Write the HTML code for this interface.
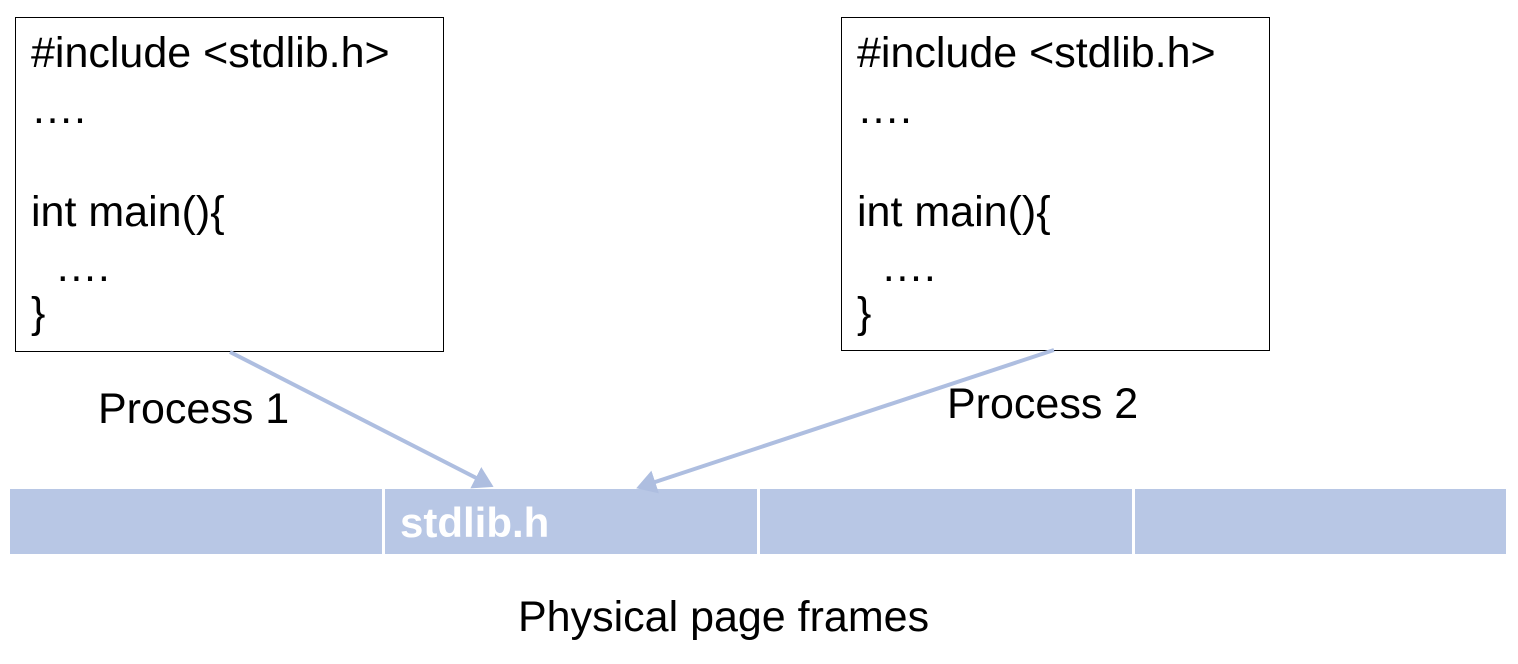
<!DOCTYPE html>
<html><head><style>
body{margin:0;width:1518px;height:664px;background:#fff;position:relative;overflow:hidden;font-family:"Liberation Sans",Arial,sans-serif;}
.box{position:absolute;border:1.5px solid #000;box-sizing:border-box;}
.t{position:absolute;font-size:43px;line-height:43px;white-space:pre;color:#000;}
.bar{position:absolute;top:489px;height:65px;background:#b8c7e5;}
</style></head><body>
<div class="box" style="left:15px;top:17px;width:429px;height:335px"></div>
<div class="box" style="left:841px;top:17px;width:429px;height:334px"></div>
<div class="t" style="left:31px;top:32px">#include &lt;stdlib.h&gt;</div>
<div class="t" style="left:31px;top:88px">….</div>
<div class="t" style="left:31px;top:191px">int main(){</div>
<div class="t" style="left:31px;top:246px">  ….</div>
<div class="t" style="left:31px;top:292px">}</div>
<div class="t" style="left:857px;top:32px">#include &lt;stdlib.h&gt;</div>
<div class="t" style="left:857px;top:88px">….</div>
<div class="t" style="left:857px;top:191px">int main(){</div>
<div class="t" style="left:857px;top:246px">  ….</div>
<div class="t" style="left:857px;top:292px">}</div>
<div class="bar" style="left:10px;width:372px"></div>
<div class="bar" style="left:385px;width:372px"></div>
<div class="bar" style="left:760px;width:372px"></div>
<div class="bar" style="left:1135px;width:371px"></div>
<div class="t" style="left:400px;top:501px;font-size:42px;font-weight:bold;color:#fff">stdlib.h</div>
<svg style="position:absolute;left:0;top:0" width="1518" height="664">
<defs><marker id="a" markerWidth="6" markerHeight="6" refX="4" refY="3" orient="auto" markerUnits="strokeWidth"><path d="M0,0 L5,3 L0,6 z" fill="#aebee0"/></marker></defs>
<line x1="230" y1="352" x2="490" y2="485" stroke="#aebee0" stroke-width="4" marker-end="url(#a)"/>
<line x1="1054" y1="350" x2="640" y2="487" stroke="#aebee0" stroke-width="4" marker-end="url(#a)"/>
</svg>
<div class="t" style="left:98px;top:388px">Process 1</div>
<div class="t" style="left:947px;top:383px">Process 2</div>
<div class="t" style="left:518px;top:596px">Physical page frames</div>
</body></html>
